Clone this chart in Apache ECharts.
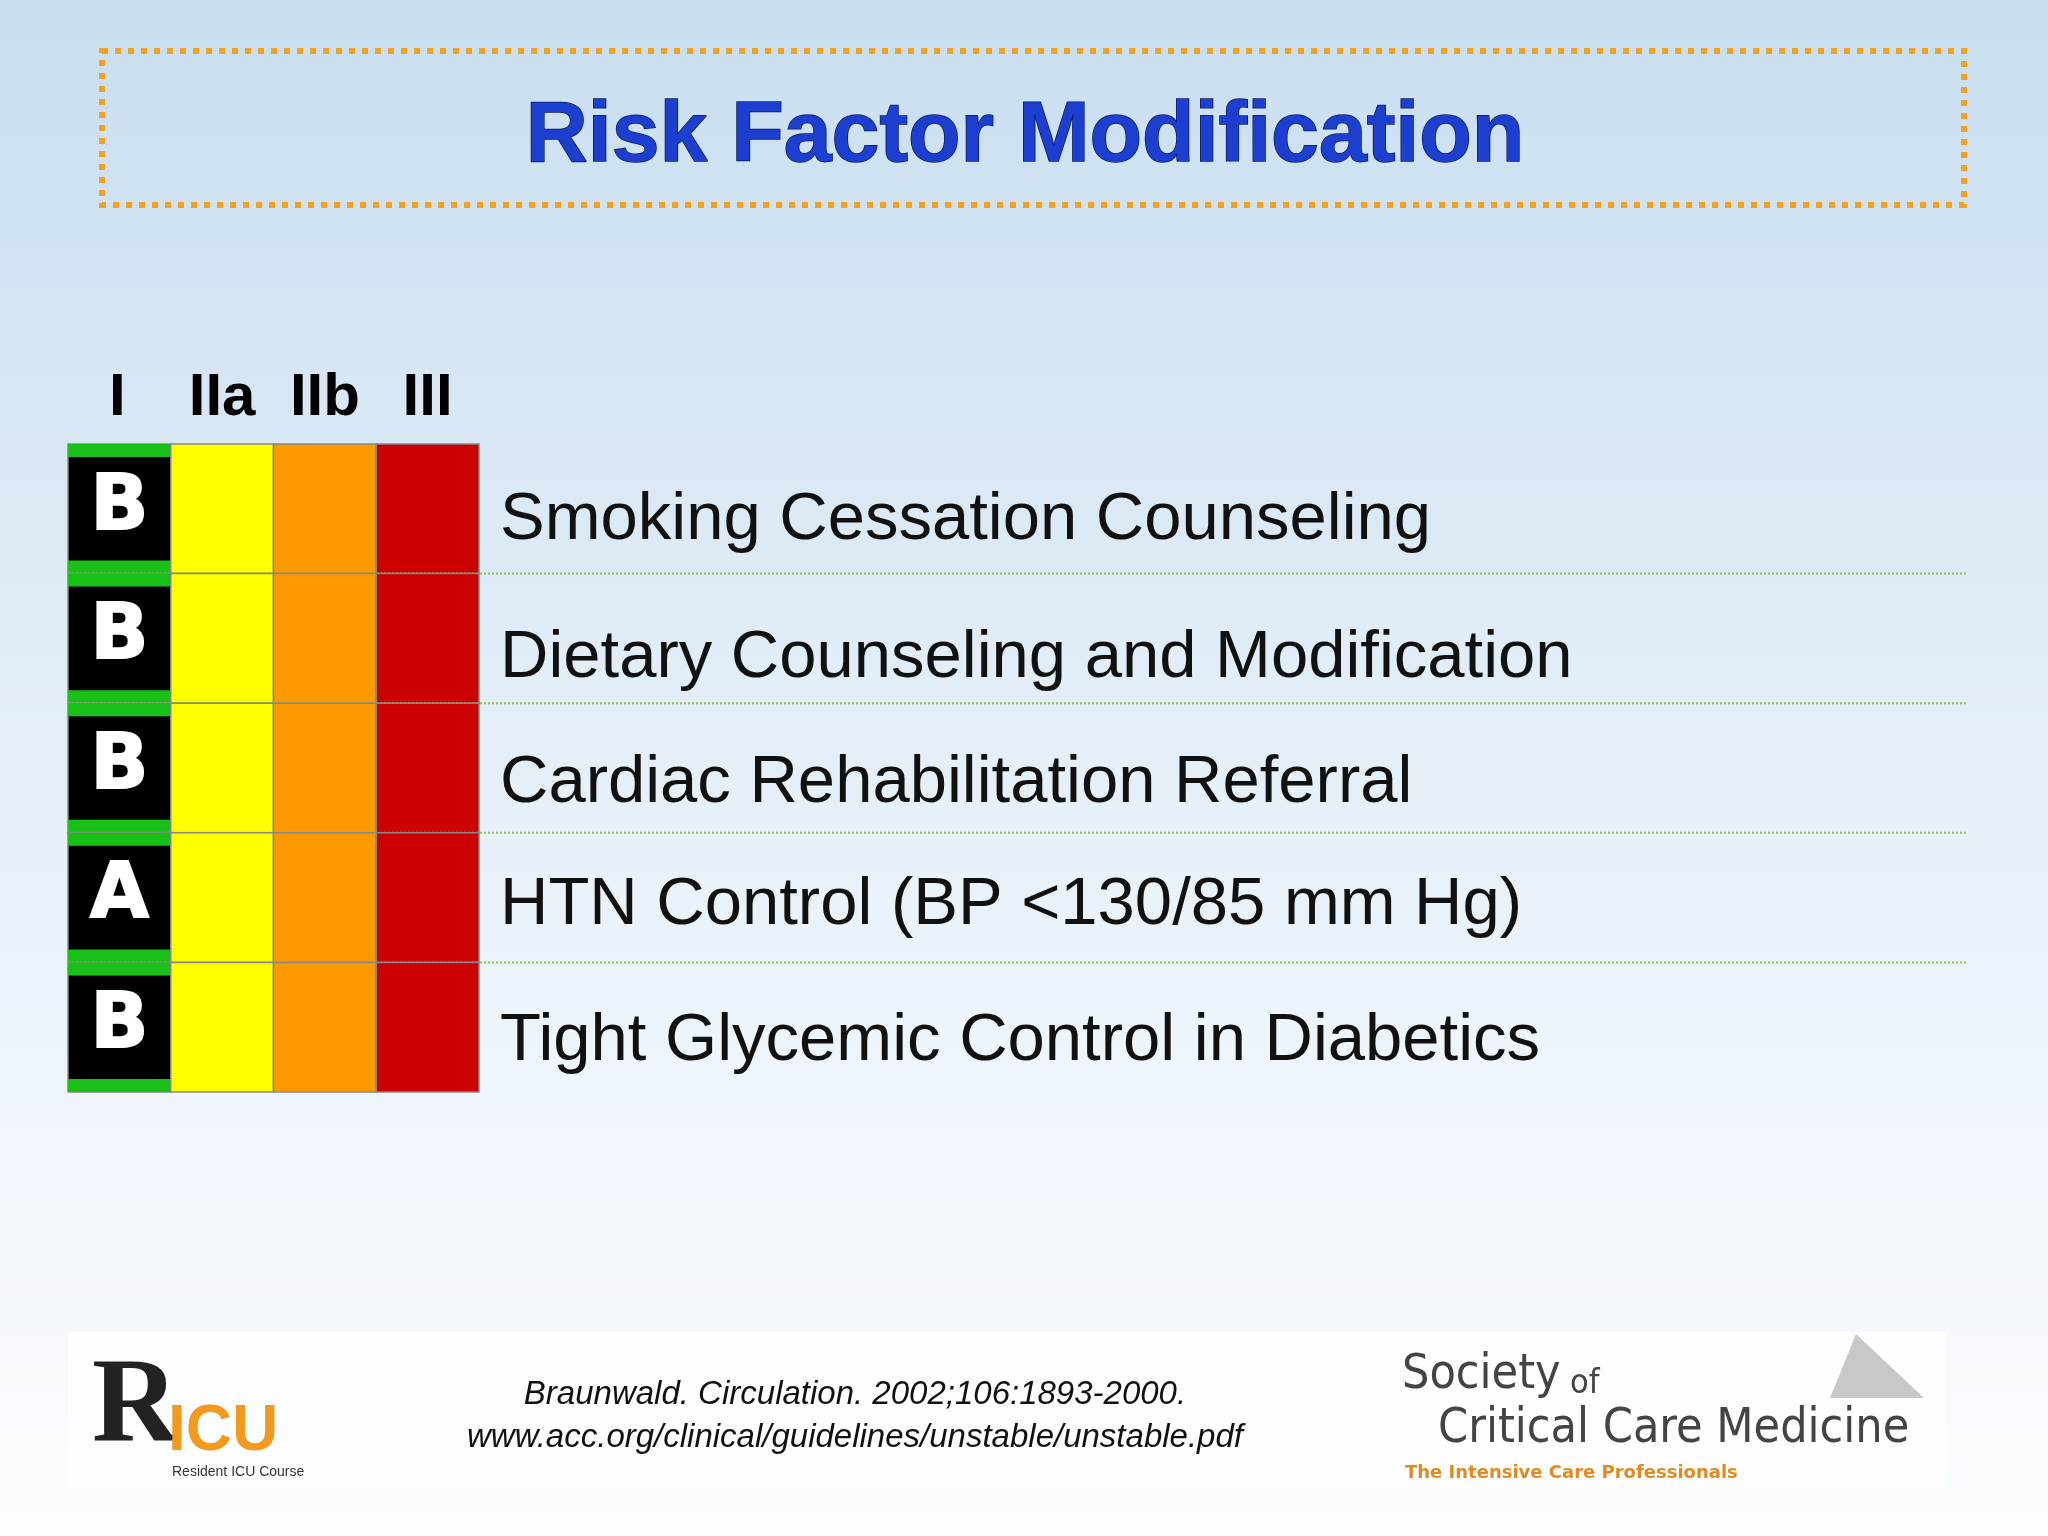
<!DOCTYPE html><html><head><meta charset="utf-8">
<script src="https://cdn.jsdelivr.net/npm/echarts@6/dist/echarts.min.js"></script>
<style>html,body{margin:0;padding:0}#c{width:2048px;height:1536px}</style></head><body><div id="c"></div>
<script>
const title = "Risk Factor Modification";
const classes = ["I","IIa","IIb","III"];
const classColors = ["#000000","#ffff00","#ff9900","#cc0000"];
const rows = ["Smoking Cessation Counseling","Dietary Counseling and Modification","Cardiac Rehabilitation Referral","HTN Control (BP <130/85 mm Hg)","Tight Glycemic Control in Diabetics"];
const levels = ["B","B","B","A","B"];
const citation = ["Braunwald. Circulation. 2002;106:1893-2000.","www.acc.org/clinical/guidelines/unstable/unstable.pdf"];

const chart = echarts.init(document.getElementById('c'));
const cellData = [];
rows.forEach((r,i)=>classes.forEach((c,j)=>cellData.push([j,i])));
const textOffsets=[12,20,16,8,14];
chart.setOption({
  backgroundColor:{type:'linear',x:0,y:0,x2:0,y2:1,colorStops:[{offset:0,color:'#c8def0'},{offset:0.55,color:'#e8f1f9'},{offset:1,color:'#fbfdff'}]},
  grid:{left:68,top:444,width:411,height:648},
  xAxis:{type:'value',min:0,max:4,show:false},
  yAxis:{type:'value',min:0,max:5,inverse:true,show:false},
  graphic:[
    {type:'rect',shape:{x:102,y:51,width:1862,height:154},style:{fill:'none',stroke:'#f5a020',lineWidth:6,lineDash:[6,7]}},
    {type:'text',x:1025,y:137,style:{text:title,font:'bold 86px "Liberation Sans", Arial',fill:'#1c3fd0',textAlign:'center',textVerticalAlign:'middle',stroke:'#0a1a60',lineWidth:1.5,shadowColor:'rgba(0,0,30,1)',shadowOffsetX:4,shadowOffsetY:4,shadowBlur:0}},
    {type:'rect',shape:{x:68,y:1332,width:1878,height:157},style:{fill:'rgba(255,255,255,0.75)'}},
    {type:'text',x:855,y:1395,style:{text:citation[0],font:'italic 33px "Liberation Sans", Arial',fill:'#111',textAlign:'center',textVerticalAlign:'middle'}},
    {type:'text',x:855,y:1438,style:{text:citation[1],font:'italic 33px "Liberation Sans", Arial',fill:'#111',textAlign:'center',textVerticalAlign:'middle'}},
    {type:'text',x:92,y:1410,style:{text:'R',font:'bold 120px "Liberation Serif"',fill:'#222',textVerticalAlign:'middle'}},
    {type:'text',x:168,y:1432,style:{text:'ICU',font:'bold 64px "Liberation Sans"',fill:'#f39a1e',textVerticalAlign:'middle'}},
    {type:'text',x:172,y:1465,style:{text:'Resident ICU Course',font:'14px "Liberation Sans"',fill:'#333'}},
    {type:'text',x:1402,y:1376,style:{text:'Society',font:'48px "DejaVu Sans Condensed", "Liberation Sans Narrow"',fill:'#444',textVerticalAlign:'middle'}},
    {type:'text',x:1570,y:1384,style:{text:'of',font:'34px "DejaVu Sans Condensed"',fill:'#444',textVerticalAlign:'middle'}},
    {type:'text',x:1438,y:1430,style:{text:'Critical Care Medicine',font:'48px "DejaVu Sans Condensed", "Liberation Sans Narrow"',fill:'#444',textVerticalAlign:'middle'}},
    {type:'text',x:1405,y:1473,style:{text:'The Intensive Care Professionals',font:'bold 18px "DejaVu Sans"',fill:'#e08a20',textVerticalAlign:'middle'}},
    {type:'polygon',shape:{points:[[1856,1334],[1924,1398],[1830,1398]]},style:{fill:'#c8c8c8'}}
  ].concat(classes.map((c,j)=>({type:'text',x:68+102.75*(j+0.5)+(j==0?-2:0),y:398,style:{text:c,font:'bold 60px "Liberation Sans", Arial',fill:'#000',textAlign:'center',textVerticalAlign:'middle'}}))),
  series:[{
    type:'custom',clip:false,data:cellData,
    renderItem:(p,api)=>{
      const j=api.value(0),i=api.value(1);
      const a=api.coord([j,i]),b=api.coord([j+1,i+1]);
      const w=b[0]-a[0],h=b[1]-a[1];
      const ch=[{type:'rect',shape:{x:a[0],y:a[1],width:w,height:h},style:{fill:classColors[j],stroke:'#888',lineWidth:1.5}}];
      if(j===0){
        ch.push({type:'rect',shape:{x:a[0],y:a[1],width:w,height:13},style:{fill:'#18c018'}});
        ch.push({type:'rect',shape:{x:a[0],y:b[1]-13,width:w,height:13},style:{fill:'#18c018'}});
        ch.push({type:'text',x:(a[0]+b[0])/2,y:(a[1]+b[1])/2,style:{text:levels[i],font:'bold 76px "DejaVu Sans", Arial Black',fill:'#fff',textAlign:'center',textVerticalAlign:'middle',stroke:'#fff',lineWidth:2}});
      }
      if(j===3){
        ch.push({type:'text',x:b[0]+21,y:(a[1]+b[1])/2+textOffsets[i],style:{text:rows[i],font:'67px "Liberation Sans", Arial',fill:'#111',textVerticalAlign:'middle'}});
        if(i<rows.length-1){
          const e=api.coord([18.47,i+1]);
          ch.push({type:'line',shape:{x1:68,y1:b[1],x2:e[0],y2:b[1]},style:{stroke:'#8cc04a',lineWidth:2,lineDash:[2,2]}});
        }
      }
      return {type:'group',children:ch};
    }
  }]
});
</script></body></html>
